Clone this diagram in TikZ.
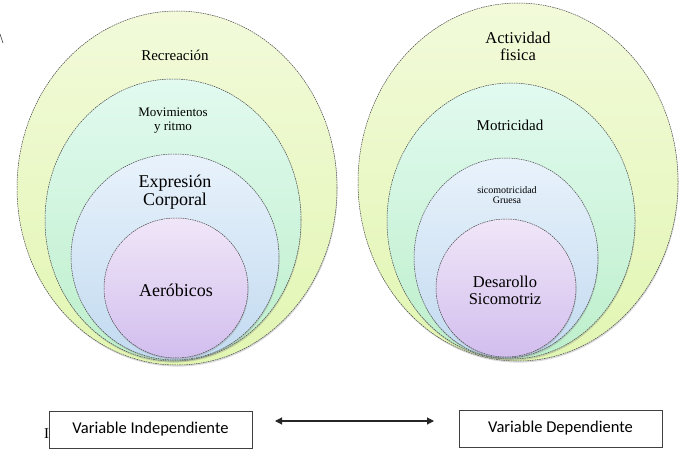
\documentclass[tikz,border=0pt]{standalone}
\usepackage{fontspec}
\setmainfont{Liberation Serif}
\newfontfamily\boxfont{Carlito}
\usetikzlibrary{shapes.geometric,shadows,arrows.meta}
\definecolor{ylA}{HTML}{F2FADA}
\definecolor{ylB}{HTML}{E2F6B2}
\definecolor{grA}{HTML}{E2FAF0}
\definecolor{grB}{HTML}{BDEFCB}
\definecolor{blA}{HTML}{E8F2FB}
\definecolor{blB}{HTML}{C2DAF0}
\definecolor{vlA}{HTML}{F0E6F8}
\definecolor{vlB}{HTML}{D2BEEE}
\definecolor{edge}{HTML}{4A4A4A}
\tikzset{
  ell/.style={ellipse, inner sep=0pt, draw=edge, line width=0.5pt,
    dash pattern=on 1.6pt off 0.8pt,
    drop shadow={shadow xshift=0.6pt, shadow yshift=-1.6pt, opacity=0.3}},
  lyel/.style={ell, top color=ylA, bottom color=ylB},
  lgrn/.style={ell, top color=grA, bottom color=grB},
  lblu/.style={ell, top color=blA, bottom color=blB},
  lvio/.style={ell, top color=vlA, bottom color=vlB},
  lbl/.style={align=center, inner sep=0pt, text=black},
  varbox/.style={draw=black!75, fill=white, line width=0.8pt, minimum width=203pt,
    minimum height=37pt, inner sep=0pt, font=\boxfont\fontsize{16.5}{19}\selectfont},
  dbl/.style={arrows={Triangle[length=7pt,width=7pt]-Triangle[length=7pt,width=7pt]}, line width=1.1pt, draw=black!85}
}
\begin{document}
\begin{tikzpicture}[x=1pt,y=-1pt]
\useasboundingbox (0,0) rectangle (696,460);
% left set
\node[lyel, minimum width=320pt, minimum height=354pt] (L1) at (177,188) {};
\node[lgrn, minimum width=256pt, minimum height=282pt] (L2) at (173,220) {};
\node[lblu, minimum width=208pt, minimum height=206pt] (L3) at (175,257) {};
\node[lvio, minimum width=144pt, minimum height=140pt] (L4) at (176,288) {};
\node[lbl, font=\fontsize{15}{16}\selectfont] (t1) at (175,55) {Recreación};
\node[lbl, font=\fontsize{13}{14}\selectfont] (t2) at (173,121) {Movimientos\\y ritmo};
\node[lbl, font=\fontsize{18}{17.5}\selectfont] (t3) at (175,192) {Expresión\\Corporal};
\node[lbl, font=\fontsize{18}{18}\selectfont] (t4) at (176,290) {Aeróbicos};
% right set
\node[lyel, minimum width=320pt, minimum height=358pt] (R1) at (518,182) {};
\node[lgrn, minimum width=248pt, minimum height=276pt] (R2) at (511,221) {};
\node[lblu, minimum width=184pt, minimum height=200pt] (R3) at (506,258) {};
\node[lvio, minimum width=140pt, minimum height=138pt] (R4) at (506,288) {};
\node[lbl, font=\fontsize{16.5}{17}\selectfont] (s1) at (518,46) {Actividad\\fisica};
\node[lbl, font=\fontsize{15}{16}\selectfont] (s2) at (510,125) {Motricidad};
\node[lbl, font=\fontsize{10}{10}\selectfont] (s3) at (507,195) {sicomotricidad\\Gruesa};
\node[lbl, font=\fontsize{16.5}{17}\selectfont] (s4) at (505,290) {Desarollo\\Sicomotriz};
% stray marks
\draw[line width=0.6pt, black!80] (0,34) -- (3,43);
\node[lbl, anchor=base west, font=\fontsize{15}{16}\selectfont] (frag) at (44,438) {I};
% variable boxes
\node[varbox] (b1) at (150.5,429.5) {Variable Independiente};
\node[varbox] (b2) at (560.5,428.5) {Variable Dependiente};
\coordinate (a1) at (275,421);
\coordinate (a2) at (434,421);
\draw[dbl] (a1) -- (a2);
\end{tikzpicture}
\end{document}
